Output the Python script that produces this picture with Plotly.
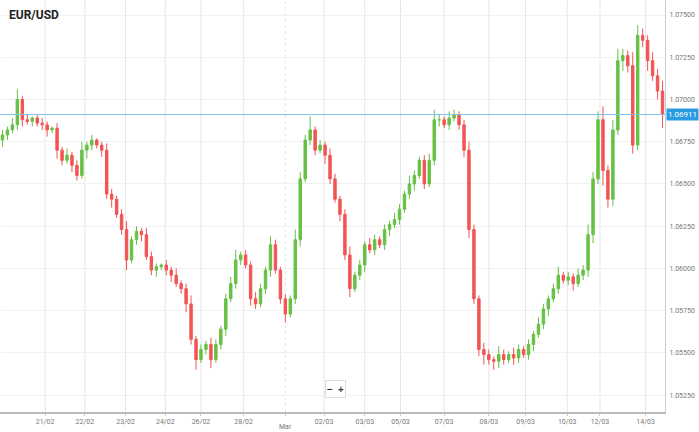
import plotly.graph_objects as go

closes = [1.0679,1.0682,1.0685,1.0700,1.0688,1.0687,1.0689,1.0686,1.0685,1.0682,
          1.0683,1.0670,1.0664,1.0667,1.0661,1.0655,1.0670,1.0673,1.0676,1.0673,
          1.0670,1.0644,1.0641,1.0632,1.0623,1.0605,1.0617,1.0622,1.0620,1.0607,
          1.0599,1.0601,1.0602,1.0599,1.0596,1.0591,1.0588,1.0579,1.0558,1.0546,
          1.0552,1.0555,1.0546,1.0555,1.0564,1.0582,1.0591,1.0605,1.0608,1.0602,
          1.0582,1.0579,1.0588,1.0599,1.0614,1.0599,1.0582,1.0573,1.0582,1.0617,
          1.0653,1.0676,1.0682,1.0670,1.0673,1.0667,1.0653,1.0641,1.0632,1.0608,
          1.0588,1.0596,1.0602,1.0614,1.0611,1.0617,1.0614,1.0623,1.0626,1.0629,
          1.0635,1.0644,1.0650,1.0655,1.0664,1.0650,1.0664,1.0688,1.0688,1.0685,
          1.0689,1.0691,1.0685,1.0670,1.0623,1.0582,1.0552,1.0549,1.0546,1.0545,
          1.0549,1.0546,1.0549,1.0547,1.0552,1.0549,1.0555,1.0561,1.0567,1.0576,
          1.0582,1.0588,1.0596,1.0593,1.0595,1.0591,1.0596,1.0599,1.0620,1.0653,
          1.0688,1.0658,1.0641,1.0682,1.0723,1.0726,1.0720,1.0673,1.0738,1.0735,
          1.0723,1.0714,1.0705,1.0691]
first_open = 1.0676
wick_up = [3,2,4,6,2,3,1,2,3,2,1,3,2,4,2,3,5,2,3,1,2,4,3,2,3,5,2,3,2,4,
           3,2,1,3,2,4,2,3,5,2,3,2,4,3,2,3,4,6,2,3,2,4,3,2,5,3,2,3,2,6,
           4,3,8,2,3,2,4,3,2,3,5,2,3,2,4,3,2,3,2,4,3,2,5,3,2,3,4,6,3,2,
           4,3,2,3,5,3,2,4,3,2,5,3,2,4,3,2,3,2,4,3,2,3,5,2,3,2,4,3,6,4,
           5,8,3,6,7,4,3,8,6,4,3,5,4,6]
wick_dn = [4,3,2,3,4,2,3,2,3,4,2,5,3,2,4,3,2,5,3,2,4,3,5,2,3,6,2,3,4,2,
           3,4,2,3,4,2,3,5,3,6,2,3,5,2,3,4,2,3,3,2,4,3,2,3,4,2,3,5,2,3,
           4,2,3,3,2,5,3,2,4,3,5,2,3,4,2,3,2,3,4,2,3,2,3,4,2,3,2,3,4,2,
           3,2,3,4,5,3,4,6,3,5,4,3,2,4,3,2,3,4,2,3,4,2,3,2,3,4,2,3,4,5,
           3,9,5,4,3,6,4,5,3,4,6,3,5,8]

tick_labels = ["21/02","22/02","23/02","24/02","26/02","28/02","","02/03","03/03",
               "05/03","07/03","08/03","09/03","10/03","12/03","14/03"]
tick_pos = [8.6,16.6,24.8,32.8,40,48.6,57,64.8,73,80.2,89,98,105.4,113.8,120.4,129.6]
month_label = "Mar"
month_pos = 57
current_price = 1.06911
y_ticks = [1.0525,1.0550,1.0575,1.0600,1.0625,1.0650,1.0675,1.0700,1.0725,1.0750]

opens = [first_open] + closes[:-1]
highs = [max(o, c) + w * 0.0001 for o, c, w in zip(opens, closes, wick_up)]
lows = [min(o, c) - w * 0.0001 for o, c, w in zip(opens, closes, wick_dn)]
x = list(range(len(closes)))

fig = go.Figure(go.Candlestick(
    x=x, open=opens, high=highs, low=lows, close=closes,
    increasing=dict(line=dict(color="#66c144", width=1), fillcolor="#66c144"),
    decreasing=dict(line=dict(color="#f25454", width=1), fillcolor="#f25454"),
    whiskerwidth=0, hoverinfo="skip"))

fig.add_hline(y=current_price, line=dict(color="#7fc4ee", width=1))
for tp, tl in zip(tick_pos, tick_labels):
    fig.add_vline(x=tp, line=dict(color="#e6e6e6", width=1, dash="dot" if tl == "" else "solid"), layer="below")

fig.add_annotation(x=1, xref="paper", xanchor="left", xshift=1, y=current_price, yref="y",
                   text="1.06911", showarrow=False, bgcolor="#2a9be0",
                   font=dict(color="white", size=8, family="Roboto"), borderpad=1)
fig.add_annotation(x=month_pos, xref="x", y=0, yref="paper", yanchor="top", yshift=-9,
                   text=month_label, showarrow=False,
                   font=dict(size=7, color="#777", family="Roboto"))
fig.add_annotation(x=0.01, xref="paper", y=0.985, yref="paper", xanchor="left", yanchor="top",
                   text="<b>EUR/USD</b>", showarrow=False,
                   font=dict(size=12, color="#222", family="Roboto"))
fig.add_annotation(x=0.505, xref="paper", y=0.035, yref="paper", text="<b>−  +</b>",
                   showarrow=False, bgcolor="white", bordercolor="#ddd", borderwidth=1,
                   font=dict(size=10, color="#333"))

fig.update_layout(
    width=699, height=432, margin=dict(l=0, r=34, t=0, b=20),
    paper_bgcolor="white", plot_bgcolor="white", showlegend=False,
    xaxis=dict(range=[-0.5, 133.5], rangeslider=dict(visible=False), tickvals=tick_pos,
               ticktext=tick_labels, showgrid=False, showline=True, linecolor="#bbb",
               linewidth=2, ticks="outside", ticklen=2, tickcolor="#ccc",
               tickfont=dict(size=7, color="#777", family="Roboto")),
    yaxis=dict(side="right", range=[1.0515, 1.07589], tickvals=y_ticks, tickformat=".5f",
               showgrid=True, gridcolor="#f0f0f0", showline=True, linecolor="#ccc",
               ticks="", ticklabelstandoff=2,
               tickfont=dict(size=7, color="#777", family="Roboto")),
)
fig.write_html("out.html", config={"displayModeBar": False},
               post_script="document.body.style.margin='0';document.body.style.overflow='hidden';")
